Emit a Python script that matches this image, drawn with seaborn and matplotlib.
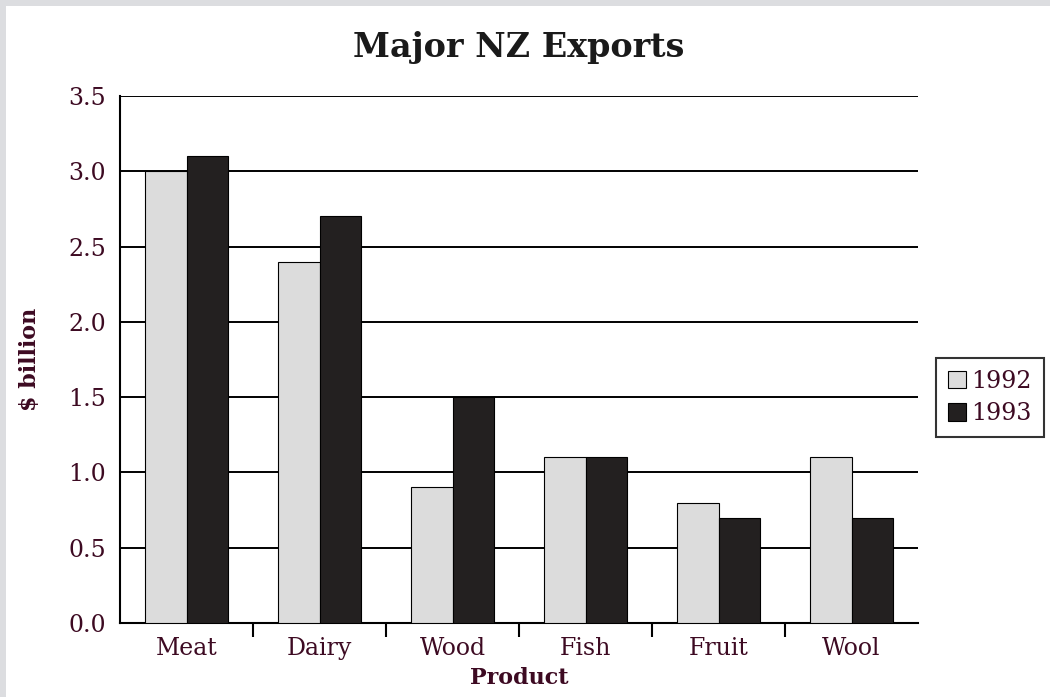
import numpy as np
import pandas as pd
import seaborn as sns
import matplotlib.pyplot as plt
from matplotlib.patches import Rectangle

products = ['Meat', 'Dairy', 'Wood', 'Fish', 'Fruit', 'Wool']
years = ['1992', '1993']
exports_1992 = [3.0, 2.4, 0.9, 1.1, 0.8, 1.1]
exports_1993 = [3.1, 2.7, 1.5, 1.1, 0.7, 0.7]

df = pd.DataFrame({
    'Product': products * 2,
    'Year': [years[0]] * len(products) + [years[1]] * len(products),
    'value': exports_1992 + exports_1993,
})

sns.set_theme(style='white')
plt.rcParams['font.family'] = ['DejaVu Serif']
txt = '#3d0a22'

fig = plt.figure(figsize=(10.5, 6.97), dpi=100, facecolor='#dcdde0')
# white page with a thin grey strip at top and left
fig.patches.append(Rectangle((6 / 1050, 0), 1, 1 - 6 / 697, transform=fig.transFigure,
                             facecolor='white', edgecolor='none', zorder=-5))
ax = fig.add_axes([0.1143, 0.1062, 0.76, 0.7561])
ax.set_facecolor('white')

sns.barplot(data=df, x='Product', y='value', hue='Year', order=products,
            palette=['#dcdcdc', '#231f20'], width=0.63, edgecolor='black',
            linewidth=0.8, ax=ax, legend=True, zorder=3)

ax.set_ylim(0, 3.5)
ax.set_xlim(-0.5, len(products) - 0.5)
ax.set_yticks(np.arange(0, 3.51, 0.5))
ax.set_yticklabels(['%.1f' % v for v in np.arange(0, 3.51, 0.5)])
ax.yaxis.grid(True, color='black', linewidth=1.4, zorder=0)
ax.set_axisbelow(True)

for s in ['top', 'right']:
    ax.spines[s].set_visible(False)
for s in ['left', 'bottom']:
    ax.spines[s].set_color('black')
    ax.spines[s].set_linewidth(1.5)

ax.set_xticks(np.arange(0.5, len(products) - 0.5, 1), minor=True)
ax.tick_params(axis='x', which='minor', length=10, width=1.5, color='black', bottom=True)
ax.tick_params(axis='x', which='major', length=0, pad=10, labelsize=17, labelcolor=txt)
ax.tick_params(axis='y', length=0, pad=10, labelsize=17, labelcolor=txt)

ax.set_xlabel('Product', fontsize=16, fontweight='bold', color=txt, labelpad=5)
ax.set_ylabel('$ billion', fontsize=16, fontweight='bold', color=txt, labelpad=20)
ax.set_title('Major NZ Exports', fontsize=24, fontweight='bold', color='#1a1a1a', pad=28)

leg = ax.legend(loc='upper left', bbox_to_anchor=(1.0226, 0.503), title=None,
                fontsize=17, frameon=True, fancybox=False, handlelength=0.75,
                handleheight=0.75, handletextpad=0.25, borderpad=0.5,
                labelspacing=0.4, borderaxespad=0)
leg.get_frame().set_edgecolor('black')
leg.get_frame().set_linewidth(1.5)
for t in leg.get_texts():
    t.set_color(txt)

fig.savefig('out.png', dpi=100, facecolor=fig.get_facecolor())
